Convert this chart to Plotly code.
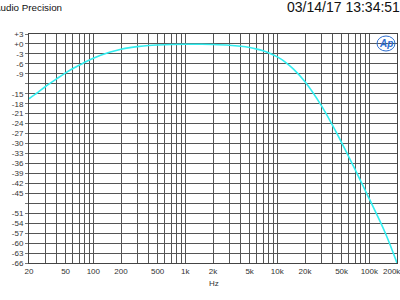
import plotly.graph_objects as go

# Frequency response data
freq_hz = [20, 25, 30, 40, 50, 60, 70, 80, 100, 120, 150, 200, 250, 300, 400, 500,
           700, 1000, 1500, 2000, 3000, 4000, 5000, 6000, 7000, 8000, 10000, 12000,
           15000, 20000, 30000, 40000, 50000, 70000, 100000, 150000, 200000]
level_db = [-16.5, -14.6, -12.9, -10.5, -8.7, -7.4, -6.4, -5.6, -4.3, -3.4, -2.5, -1.6,
            -1.1, -0.8, -0.45, -0.3, -0.15, -0.08, -0.1, -0.18, -0.4, -0.71, -1.09,
            -1.55, -2.06, -2.63, -3.9, -5.3, -7.6, -11.4, -18.5, -24.6, -29.7, -37.8,
            -46.7, -57.1, -66.0]

x_grid = [20, 30, 40, 50, 60, 70, 80, 90,
          100, 200, 300, 400, 500, 600, 700, 800, 900,
          1000, 2000, 3000, 4000, 5000, 6000, 7000, 8000, 9000,
          10000, 20000, 30000, 40000, 50000, 60000, 70000, 80000, 90000,
          100000, 200000]
x_labels = {20: "20", 50: "50", 100: "100", 200: "200", 500: "500", 1000: "1k",
            2000: "2k", 5000: "5k", 10000: "10k", 20000: "20k", 50000: "50k",
            100000: "100k"}
edge_label = "200k"
y_grid = list(range(3, -67, -3))
y_hidden = [-12, -48]

x_text = [x_labels.get(v, "") for v in x_grid]
y_text = ["" if v in y_hidden else ("+%d" % v if v >= 0 else "%d" % v) for v in y_grid]

fig = go.Figure()
fig.add_trace(go.Scatter(x=freq_hz, y=level_db, mode="lines",
                         line=dict(color="#33eef0", width=1.6, shape="spline"),
                         hoverinfo="skip"))

L, R, T, B = 29, 3, 34, 37
W, H = 400, 300
pw, ph = W - L - R, H - T - B

def px(x):
    return (x - L) / pw

def py(y):
    return (H - B - y) / ph

fig.update_layout(
    width=W, height=H,
    margin=dict(l=L, r=R, t=T, b=B),
    paper_bgcolor="white", plot_bgcolor="white",
    showlegend=False,
    font=dict(family="Liberation Sans, Arial, sans-serif", size=8, color="#333"),
    xaxis=dict(type="log", range=[1.30103, 5.30103], tickvals=x_grid, ticktext=x_text,
               showgrid=True, gridcolor="#555", gridwidth=1,
               showline=True, linecolor="#444", linewidth=1, mirror=True,
               ticks="", tickfont=dict(size=8, color="#333"), zeroline=False),
    yaxis=dict(range=[-66, 3], tickvals=y_grid, ticktext=y_text,
               showgrid=True, gridcolor="#555", gridwidth=1,
               showline=True, linecolor="#444", linewidth=1, mirror=True,
               ticks="outside", ticklen=3, tickcolor="#777",
               tickfont=dict(size=8, color="#333"), zeroline=False),
    annotations=[
        dict(text="Audio Precision", xref="paper", yref="paper", x=px(64), y=py(7),
             xanchor="right", yanchor="middle", showarrow=False,
             font=dict(size=9.8, color="#111")),
        dict(text="03/14/17 13:34:51", xref="paper", yref="paper", x=px(285), y=py(7),
             xanchor="left", yanchor="middle", showarrow=False,
             font=dict(size=14, color="#111")),
        dict(text=edge_label, xref="paper", yref="paper", x=px(392), y=py(271),
             xanchor="center", yanchor="middle", showarrow=False,
             font=dict(size=8, color="#333")),
        dict(text="Hz", xref="paper", yref="paper", x=px(214), y=py(283),
             xanchor="center", yanchor="middle", showarrow=False,
             font=dict(size=8, color="#333")),
        dict(text="<b><i>Ap</i></b>", xref="paper", yref="paper", x=px(386), y=py(43),
             xanchor="center", yanchor="middle", showarrow=False,
             font=dict(size=10, color="#2f6fd0")),
    ],
    shapes=[
        dict(type="circle", xref="paper", yref="paper",
             x0=px(377), x1=px(395), y0=py(36), y1=py(51),
             line=dict(color="#2f6fd0", width=1)),
    ],
)

fig.write_html("out.html")
